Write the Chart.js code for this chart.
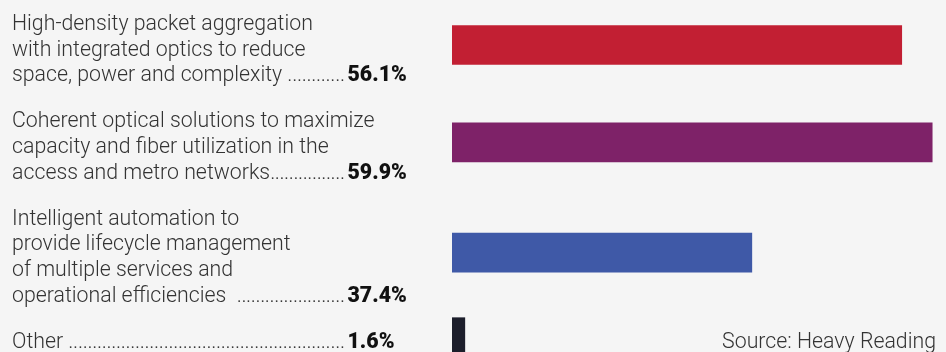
<!DOCTYPE html>
<html>
<head>
<meta charset="utf-8">
<script src="https://cdn.jsdelivr.net/npm/chart.js@4/dist/chart.umd.min.js"></script>
<style>
  html, body { margin: 0; padding: 0; background: #f5f5f5; }
  #wrap { position: relative; width: 946px; height: 352px; }
</style>
</head>
<body>
<div id="wrap"><canvas id="chart" width="946" height="352"></canvas></div>
<script>
// Survey answers, each split into the lines it is printed on
const categories = [
  ["High-density packet aggregation", "with integrated optics to reduce", "space, power and complexity "],
  ["Coherent optical solutions to maximize", "capacity and fiber utilization in the", "access and metro networks"],
  ["Intelligent automation to", "provide lifecycle management", "of multiple services and", "operational efficiencies  "],
  ["Other "]
];
// Share of respondents (%)
const values = [56.1, 59.9, 37.4, 1.6];
const barColors = ["#c21f33", "#7e2268", "#3f59a7", "#1c1e2b"];
const sourceNote = "Source: Heavy Reading";

// Text layout
const W = 946, H = 352;
const LABEL_FONT = '300 21.3px Roboto';
const VALUE_FONT = '900 21.3px Roboto';
const TEXT_COLOR = '#333333';
const LABEL_X = 12;
const FIRST_BASELINE = 30;
const LINE_H = 25.6;
const BLOCK_GAP = 20.6;
const LEADER_END = 345;
const DOT_PITCH = 4.8;
const VALUE_X = 347.5;

// Baselines of every label line, block by block
const baselines = [];
let lineCount = 0;
categories.forEach((lines, b) => {
  baselines.push(lines.map((_, k) => FIRST_BASELINE + LINE_H * (lineCount + k) + BLOCK_GAP * b));
  lineCount += lines.length;
});
// Each bar sits level with the middle of its label block
const rowCenters = baselines.map(bl => (bl[0] + bl[bl.length - 1]) / 2 - 10.6);

const labelPlugin = {
  id: 'sideLabels',
  afterDraw(chart) {
    const ctx = chart.ctx;
    ctx.save();
    ctx.textBaseline = 'alphabetic';
    categories.forEach((lines, i) => {
      lines.forEach((line, k) => {
        const y = baselines[i][k];
        ctx.font = LABEL_FONT;
        ctx.fillStyle = TEXT_COLOR;
        ctx.textAlign = 'left';
        ctx.fillText(line, LABEL_X, y);
        if (k === lines.length - 1) {
          // dotted leader running from the text up to the value
          const start = LABEL_X + ctx.measureText(line).width;
          const dotW = ctx.measureText('.').width;
          const span = LEADER_END - dotW - start;
          const n = Math.max(1, Math.round(span / DOT_PITCH));
          const step = span / n;
          for (let j = 0; j <= n; j++) ctx.fillText('.', start + j * step, y);
          ctx.font = VALUE_FONT;
          ctx.fillStyle = '#111111';
          ctx.fillText(values[i].toFixed(1) + '%', VALUE_X, y);
        }
      });
    });
    ctx.font = LABEL_FONT;
    ctx.fillStyle = TEXT_COLOR;
    ctx.textAlign = 'right';
    ctx.fillText(sourceNote, 936, baselines[baselines.length - 1][0]);
    ctx.restore();
  }
};

new Chart(document.getElementById('chart'), {
  type: 'bar',
  data: {
    datasets: [{
      data: values.map((v, i) => ({ x: v, y: rowCenters[i] })),
      backgroundColor: barColors,
      borderWidth: 0,
      barThickness: 39
    }]
  },
  options: {
    indexAxis: 'y',
    responsive: false,
    devicePixelRatio: 1,
    animation: false,
    layout: { padding: { left: 452, right: 13, top: 0, bottom: 0 } },
    scales: {
      x: { type: 'linear', min: 0, max: 60, display: false },
      y: { type: 'linear', min: 0, max: H, reverse: true, offset: false, display: false }
    },
    plugins: { legend: { display: false }, tooltip: { enabled: false } }
  },
  plugins: [labelPlugin]
});
</script>
</body>
</html>
